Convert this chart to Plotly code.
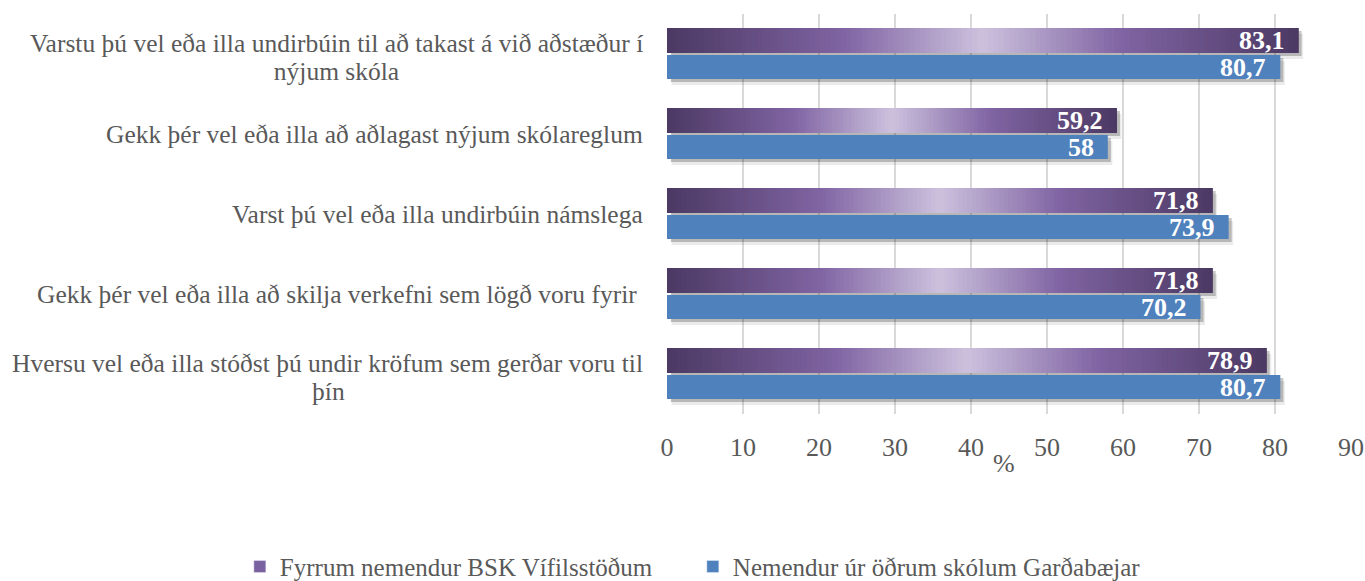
import plotly.graph_objects as go

# each category label as list of its lines
category_lines = [
    ["Varstu þú vel eða illa undirbúin til að takast á við aðstæður í", "nýjum skóla"],
    ["Gekk þér vel eða illa að aðlagast nýjum skólareglum"],
    ["Varst þú vel eða illa undirbúin námslega"],
    ["Gekk þér vel eða illa að skilja verkefni sem lögð voru fyrir "],
    ["Hversu vel eða illa stóðst þú undir kröfum sem gerðar voru til", "þín"],
]
first_line_widths = [613, 0, 0, 0, 629]   # approx. pixel width of first line, for centering the second
cat_ids = ["c1", "c2", "c3", "c4", "c5"]
series_names = ["Fyrrum nemendur BSK Vífilsstöðum", "Nemendur úr öðrum skólum Garðabæjar"]
bsk_values = [83.1, 59.2, 71.8, 71.8, 78.9]
other_values = [80.7, 58.0, 73.9, 70.2, 80.7]
tick_values = [0, 10, 20, 30, 40, 50, 60, 70, 80, 90]

FONT = "Liberation Serif"
TXT = "#595959"
BLUE = "#4F81BD"
grad_stops = [(0.0, "#4B3963"), (0.28, "#8064A3"), (0.5, "#CCC1DD"), (0.72, "#8064A3"), (1.0, "#4B3963")]


def hex2rgb(h):
    h = h.lstrip("#")
    return tuple(int(h[i:i + 2], 16) for i in (0, 2, 4))


def grad_color(t):
    for (t0, c0), (t1, c1) in zip(grad_stops[:-1], grad_stops[1:]):
        if t0 <= t <= t1:
            f = (t - t0) / (t1 - t0)
            a, b = hex2rgb(c0), hex2rgb(c1)
            return "rgb(%d,%d,%d)" % tuple(round(a[k] + (b[k] - a[k]) * f) for k in range(3))
    return grad_stops[-1][1]


def fmt(v):
    s = ("%.1f" % v).rstrip("0").rstrip(".")
    return s.replace(".", ",")


# category spacing is 80px in the plot -> offsets in category units
P_OFF, P_W = -0.325, 0.3125
B_OFF, B_W = 0.0125, 0.30
SH1 = 3 / 80
SH2 = 6 / 80

fig = go.Figure()

# shadows
for vals, off, w in [(other_values, B_OFF, B_W), (bsk_values, P_OFF, P_W)]:
    fig.add_trace(go.Bar(y=cat_ids, x=vals, base=[0.6] * 5, orientation="h", offset=off + SH2, width=w,
                         marker=dict(color="rgba(0,0,0,0.08)", line=dict(width=0)), showlegend=False, hoverinfo="skip"))
    fig.add_trace(go.Bar(y=cat_ids, x=[v - 0.1 for v in vals], base=[0.5] * 5, orientation="h", offset=off + SH1, width=w,
                         marker=dict(color="rgba(0,0,0,0.22)", line=dict(width=0)), showlegend=False, hoverinfo="skip"))

# blue bars
fig.add_trace(go.Bar(y=cat_ids, x=other_values, orientation="h", offset=B_OFF, width=B_W,
                     marker=dict(color=BLUE, line=dict(width=0)), name=series_names[1], showlegend=False))

# purple gradient bars built from overlapping segments
N = 120
seg_y, seg_x, seg_base, seg_col = [], [], [], []
for cid, v in zip(cat_ids, bsk_values):
    for i in range(N):
        seg_y.append(cid)
        seg_base.append(v * i / N)
        seg_x.append(v / N * 2.5 if i < N - 2 else v * (N - i) / N)
        seg_col.append(grad_color((i + 0.5) / N))
fig.add_trace(go.Bar(y=seg_y, x=seg_x, base=seg_base, orientation="h", offset=P_OFF, width=P_W,
                     marker=dict(color=seg_col, line=dict(width=0)), showlegend=False, hoverinfo="skip"))

# legend entries
fig.add_trace(go.Bar(y=[None], x=[None], orientation="h", name=series_names[0], marker=dict(color="#7A62A0")))
fig.add_trace(go.Bar(y=[None], x=[None], orientation="h", name=series_names[1], marker=dict(color=BLUE)))

annotations = []
lab_font = dict(family=FONT, size=25.5, color=TXT)
for cid, lines, w1 in zip(cat_ids, category_lines, first_line_widths):
    if len(lines) == 1:
        annotations.append(dict(x=0, xref="paper", y=cid, yref="y", text=lines[0], showarrow=False,
                                xanchor="right", xshift=-22, font=lab_font))
    else:
        annotations.append(dict(x=0, xref="paper", y=cid, yref="y", text=lines[0], showarrow=False,
                                xanchor="right", xshift=-22, yshift=11, font=lab_font))
        annotations.append(dict(x=0, xref="paper", y=cid, yref="y", text=lines[1], showarrow=False,
                                xanchor="right", xshift=-22, yshift=-17, width=w1, align="center", font=lab_font))
for cid, pv, bv in zip(cat_ids, bsk_values, other_values):
    annotations.append(dict(x=pv, y=cid, text="<b>%s</b>" % fmt(pv), showarrow=False, xanchor="right", xshift=-12,
                            yshift=13.5, font=dict(family=FONT, size=26, color="white")))
    annotations.append(dict(x=bv, y=cid, text="<b>%s</b>" % fmt(bv), showarrow=False, xanchor="right", xshift=-12,
                            yshift=-13, font=dict(family=FONT, size=26, color="white")))
annotations.append(dict(x=0.493, xref="paper", y=0, yref="paper", yanchor="middle", yshift=-49, text="%",
                        showarrow=False, font=dict(family=FONT, size=26, color=TXT)))

fig.update_layout(
    width=1365, height=581,
    margin=dict(l=667, r=14, t=14, b=167, autoexpand=False),
    paper_bgcolor="white", plot_bgcolor="white",
    barmode="overlay",
    font=dict(family=FONT, color=TXT),
    xaxis=dict(range=[0, 90], tickvals=tick_values, showgrid=True, gridcolor="#D9D9D9", gridwidth=1.5,
               zeroline=False, showline=False, ticks="", tickfont=dict(family=FONT, size=26, color=TXT),
               ticklabelstandoff=15),
    yaxis=dict(categoryorder="array", categoryarray=cat_ids, range=[4.5, -0.5], showticklabels=False,
               showgrid=False, zeroline=False, showline=False, ticks=""),
    legend=dict(orientation="h", x=-0.6245, xanchor="left", y=-0.382, yanchor="middle",
                font=dict(family=FONT, size=25, color=TXT), itemwidth=30, traceorder="normal",
                entrywidth=408),
    annotations=annotations,
    showlegend=True,
)
fig.write_html("out.html", config={"displayModeBar": False},
               post_script="document.body.style.margin='0px';document.body.style.overflow='hidden';")
